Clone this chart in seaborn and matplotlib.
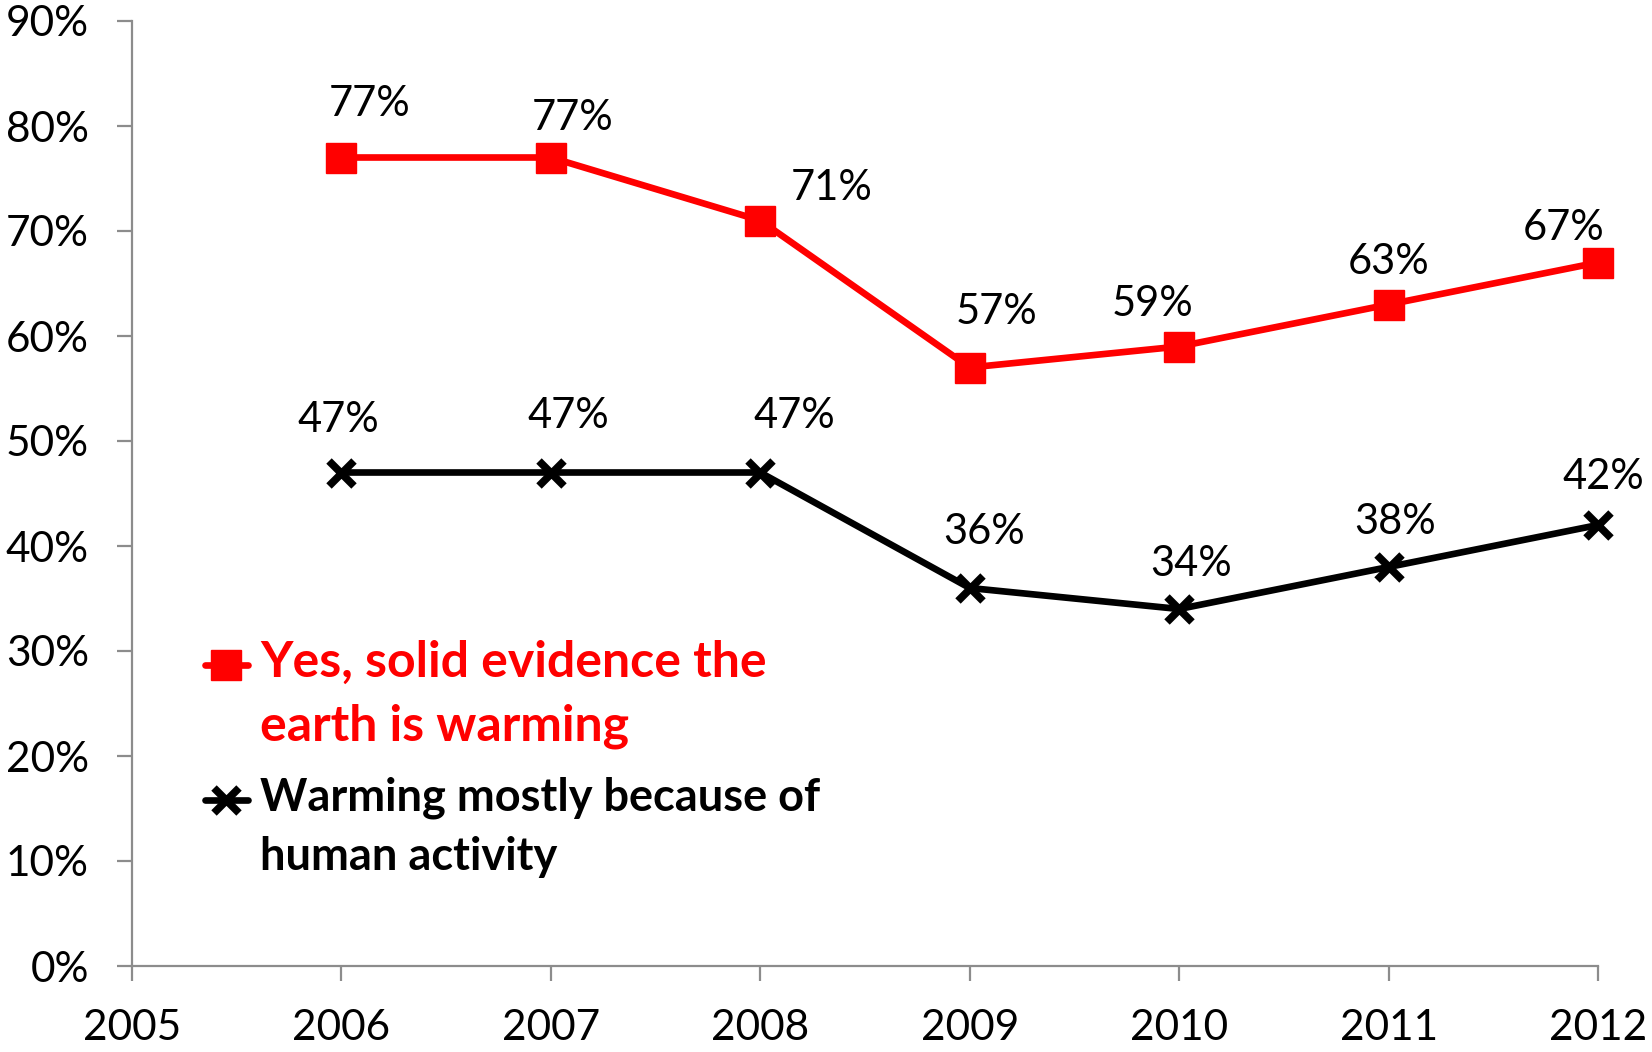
import matplotlib
matplotlib.use("Agg")
import matplotlib.pyplot as plt
import seaborn as sns
import pandas as pd
from matplotlib.ticker import PercentFormatter
from matplotlib.legend_handler import HandlerLine2D

years = [2006, 2007, 2008, 2009, 2010, 2011, 2012]
solid_evidence = [77, 77, 71, 57, 59, 63, 67]
human_activity = [47, 47, 47, 36, 34, 38, 42]
series_labels = ["Yes, solid evidence the\nearth is warming",
                 "Warming mostly because of\nhuman activity"]
x_ticks = [2005, 2006, 2007, 2008, 2009, 2010, 2011, 2012]
y_ticks = [0, 10, 20, 30, 40, 50, 60, 70, 80, 90]

# label offsets (pixels) — styling only
red_offsets = [(28, 53), (22, 39), (71, 33), (27, 56), (-27, 42), (0, 43), (-34, 35)]
black_offsets = [(-3, 53), (17, 56), (34, 56), (14, 56), (12, 45), (7, 45), (5, 48)]


class TopAlignedHandler(HandlerLine2D):
    """Shift the legend handle upward so it lines up with the first text line."""
    def __init__(self, shift, **kw):
        super().__init__(**kw)
        self.shift = shift

    def create_artists(self, legend, orig_handle, xdescent, ydescent, width,
                       height, fontsize, trans):
        return super().create_artists(legend, orig_handle, xdescent,
                                      ydescent - 2 * self.shift, width, height,
                                      fontsize, trans)


sns.set_style("white")
plt.rcParams['font.family'] = ['Lato', 'DejaVu Sans']

fig = plt.figure(figsize=(16.52, 10.52), dpi=100)
ax = fig.add_axes([132 / 1652, 86 / 1052, 1466 / 1652, 945 / 1052])

df1 = pd.DataFrame({"year": years, "value": solid_evidence})
df2 = pd.DataFrame({"year": years, "value": human_activity})

sns.lineplot(data=df1, x="year", y="value", ax=ax, color="#ff0000", lw=4.8,
             marker="s", markersize=21, markeredgewidth=1, markeredgecolor="#ff0000",
             label=series_labels[0], clip_on=False)
sns.lineplot(data=df2, x="year", y="value", ax=ax, color="#000000", lw=4.8,
             marker="x", markersize=18, markeredgewidth=5.5, markeredgecolor="#000000",
             label=series_labels[1], clip_on=False)

for x, v, (dx, dy) in zip(years, solid_evidence, red_offsets):
    ax.annotate(f"{v}%", (x, v), xytext=(dx, dy), textcoords="offset pixels",
                ha="center", va="center", fontsize=30, color="black")
for x, v, (dx, dy) in zip(years, human_activity, black_offsets):
    ax.annotate(f"{v}%", (x, v), xytext=(dx, dy), textcoords="offset pixels",
                ha="center", va="center", fontsize=30, color="black")

ax.set_xlim(2005, 2012)
ax.set_ylim(0, 90)
ax.set_xticks(x_ticks)
ax.set_xticklabels([str(t) for t in x_ticks])
ax.set_yticks(y_ticks)
ax.yaxis.set_major_formatter(PercentFormatter(decimals=0))
ax.set_xlabel("")
ax.set_ylabel("")

for s in ["top", "right"]:
    ax.spines[s].set_visible(False)
for s in ["left", "bottom"]:
    ax.spines[s].set_color("#8c8c8c")
    ax.spines[s].set_linewidth(1.6)

ax.tick_params(axis="both", which="major", direction="out", length=11, width=1.6,
               color="#8c8c8c", labelsize=30.5, labelcolor="black")
ax.tick_params(axis="y", pad=20)
ax.tick_params(axis="x", pad=20)
ax.tick_params(left=True, bottom=True)

handles, labels = ax.get_legend_handles_labels()
leg = ax.legend(handles, labels, loc="upper left", bbox_to_anchor=(0.0498, 0.345),
                frameon=False,
                prop={"family": "Lato", "weight": "bold", "size": 36},
                handlelength=0.85, handletextpad=0.25, labelspacing=0.55,
                borderpad=0, borderaxespad=0,
                handler_map={handles[0]: TopAlignedHandler(22),
                             handles[1]: TopAlignedHandler(19)})
for txt, c, fs in zip(leg.get_texts(), ["#ff0000", "#000000"], [36, 32.5]):
    txt.set_color(c)
    txt.set_fontsize(fs)
    txt.set_linespacing(1.5)

fig.savefig("out.png", dpi=100)
